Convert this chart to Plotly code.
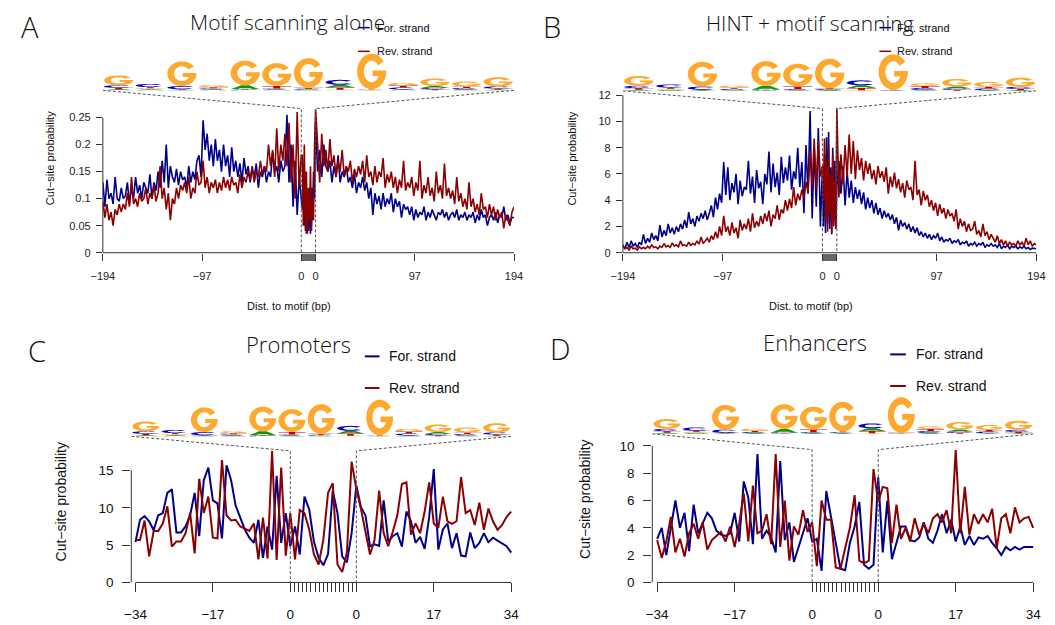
import math
import plotly.graph_objects as go

# ---------------- DATA ----------------
# Panel A: Motif scanning alone (flanks sampled every 2 bp, motif interior every 1 bp)
A_FOR_LEFT = [0.13, 0.085, 0.135, 0.1, 0.11, 0.09, 0.14, 0.1, 0.095, 0.12,
              0.1, 0.105, 0.13, 0.09, 0.12, 0.1, 0.14, 0.11, 0.125, 0.1,
              0.13, 0.12, 0.11, 0.145, 0.1, 0.13, 0.115, 0.15, 0.12, 0.17,
              0.13, 0.2, 0.12, 0.16, 0.14, 0.13, 0.155, 0.125, 0.15, 0.135,
              0.14, 0.12, 0.16, 0.13, 0.15, 0.135, 0.17, 0.18, 0.14, 0.245,
              0.19, 0.22, 0.17, 0.2, 0.16, 0.21, 0.17, 0.19, 0.15, 0.2,
              0.16, 0.18, 0.14, 0.195, 0.15, 0.17, 0.14, 0.165, 0.13, 0.175,
              0.145, 0.16, 0.13, 0.155, 0.14, 0.165, 0.12, 0.15, 0.14, 0.16,
              0.13, 0.15, 0.14, 0.185, 0.15, 0.16, 0.13, 0.17, 0.15, 0.16,
              0.255, 0.13, 0.2, 0.085, 0.17, 0.07, 0.14, 0.1]
A_FOR_MOTIF = [0.08, 0.15, 0.05, 0.12, 0.035, 0.1, 0.04, 0.09, 0.035, 0.12, 0.06, 0.15, 0.1]
A_FOR_RIGHT = [0.24, 0.15, 0.19, 0.14, 0.2, 0.16,
               0.15, 0.17, 0.13, 0.16, 0.14, 0.18, 0.13, 0.15, 0.14, 0.16,
               0.13, 0.14, 0.12, 0.145, 0.11, 0.13, 0.12, 0.14, 0.115, 0.13,
               0.1, 0.12, 0.07, 0.11, 0.09, 0.105, 0.08, 0.11, 0.085, 0.1,
               0.09, 0.11, 0.075, 0.1, 0.085, 0.095, 0.065, 0.09, 0.08, 0.085,
               0.07, 0.085, 0.06, 0.08, 0.065, 0.075, 0.07, 0.085, 0.06, 0.075,
               0.065, 0.08, 0.07, 0.06, 0.075, 0.07, 0.08, 0.065, 0.075, 0.06,
               0.07, 0.075, 0.065, 0.08, 0.06, 0.07, 0.065, 0.075, 0.06, 0.07,
               0.065, 0.075, 0.055, 0.07, 0.06, 0.08, 0.065, 0.07, 0.05, 0.065,
               0.07, 0.06, 0.075, 0.055, 0.07, 0.065, 0.085, 0.06, 0.07, 0.055, 0.065, 0.065]
A_REV_LEFT = [0.095, 0.065, 0.09, 0.06, 0.075, 0.05, 0.08, 0.07, 0.09, 0.075,
              0.09, 0.08, 0.11, 0.085, 0.14, 0.09, 0.1, 0.085, 0.11, 0.095,
              0.1, 0.12, 0.09, 0.11, 0.1, 0.125, 0.095, 0.11, 0.16, 0.1,
              0.12, 0.08, 0.11, 0.06, 0.1, 0.09, 0.12, 0.1, 0.125, 0.115,
              0.13, 0.11, 0.14, 0.1, 0.12, 0.11, 0.15, 0.125, 0.13, 0.17,
              0.12, 0.14, 0.11, 0.13, 0.12, 0.135, 0.11, 0.13, 0.115, 0.14,
              0.12, 0.135, 0.115, 0.14, 0.125, 0.13, 0.11, 0.145, 0.12, 0.14,
              0.13, 0.15, 0.135, 0.16, 0.13, 0.15, 0.14, 0.17, 0.145, 0.16,
              0.15, 0.2, 0.16, 0.19, 0.14, 0.23, 0.15, 0.2, 0.17, 0.22,
              0.16, 0.24, 0.13, 0.2, 0.1, 0.26, 0.12, 0.18]
A_REV_MOTIF = [0.18, 0.05, 0.2, 0.04, 0.15, 0.035, 0.12, 0.06, 0.16, 0.04, 0.1, 0.06, 0.2]
A_REV_RIGHT = [0.265, 0.2, 0.13, 0.22, 0.16, 0.19,
               0.15, 0.21, 0.16, 0.18, 0.14, 0.17, 0.15, 0.19, 0.14, 0.16,
               0.15, 0.17, 0.13, 0.155, 0.14, 0.16, 0.145, 0.17, 0.13, 0.18,
               0.14, 0.15, 0.125, 0.16, 0.13, 0.15, 0.14, 0.175, 0.12, 0.145,
               0.13, 0.15, 0.12, 0.14, 0.11, 0.135, 0.12, 0.17, 0.115, 0.13,
               0.12, 0.14, 0.105, 0.13, 0.115, 0.17, 0.1, 0.125, 0.11, 0.14,
               0.105, 0.12, 0.095, 0.15, 0.11, 0.125, 0.1, 0.165, 0.105, 0.12,
               0.1, 0.115, 0.09, 0.14, 0.095, 0.11, 0.085, 0.1, 0.08, 0.13,
               0.085, 0.1, 0.075, 0.09, 0.07, 0.11, 0.08, 0.085, 0.065, 0.09,
               0.07, 0.085, 0.06, 0.08, 0.065, 0.075, 0.045, 0.07, 0.06, 0.05, 0.075, 0.085]

# Panel B: HINT + motif scanning
B_FOR_LEFT = [0.6, 0.3, 0.8, 0.4, 0.9, 0.5, 0.7, 0.4, 0.8, 0.6,
              1.4, 0.7, 1.1, 0.8, 1.5, 1.0, 1.3, 0.9, 2.1, 1.2,
              1.7, 1.3, 2.2, 1.5, 1.9, 1.4, 2.0, 1.6, 2.2, 1.8,
              2.5, 1.9, 3.1, 2.2, 2.6, 2.0, 2.8, 2.4, 3.0, 2.6,
              3.2, 2.5, 3.0, 3.6, 2.7, 4.2, 3.3, 4.5, 3.8, 6.9,
              4.4, 6.5, 4.0, 5.3, 4.6, 6.0, 3.7, 5.5, 4.3, 5.0,
              4.8, 7.0, 4.5, 5.8, 3.8, 6.3, 4.9, 5.4, 3.7, 6.0,
              5.2, 7.7, 4.6, 6.8, 5.0, 6.1, 4.4, 7.3, 5.3, 6.5,
              5.5, 7.4, 4.8, 6.2, 5.6, 8.0, 5.0, 6.9, 3.0, 8.2,
              4.5, 10.8, 2.6, 8.0, 3.5, 9.5, 2.0, 6.5]
B_FOR_MOTIF = [2.0, 7.5, 1.5, 8.8, 2.2, 9.2, 1.8, 6.5, 1.4, 8.0, 2.5, 7.0, 1.8]
B_FOR_RIGHT = [5.0, 7.0, 4.5, 6.6, 3.6, 6.2,
               4.2, 5.5, 3.8, 5.0, 4.1, 4.8, 3.7, 4.6, 3.3, 4.2,
               3.4, 4.0, 3.0, 3.8, 2.9, 3.4, 2.6, 3.2, 2.7, 3.0,
               2.5, 2.9, 2.2, 2.7, 1.7, 2.5, 2.0, 2.3, 1.8, 2.2,
               1.6, 2.0, 1.5, 1.9, 1.3, 1.6, 1.2, 1.5, 1.1, 1.4,
               1.0, 1.3, 1.1, 1.5, 0.9, 1.2, 0.8, 1.0, 0.9, 1.1,
               0.7, 0.9, 0.8, 1.0, 0.6, 0.8, 0.7, 0.9, 0.5, 0.7,
               0.6, 0.8, 0.5, 0.7, 0.6, 0.8, 0.4, 0.6, 0.5, 0.7,
               0.5, 0.6, 0.4, 0.7, 0.3, 0.5, 0.4, 0.6, 0.3, 0.5,
               0.4, 0.5, 0.3, 0.45, 0.35, 0.5, 0.3, 0.4, 0.25, 0.35, 0.3, 0.3]
B_REV_LEFT = [0.5, 0.3, 0.4, 0.2, 0.5, 0.3, 0.35, 0.2, 0.45, 0.3,
              0.4, 0.3, 0.5, 0.35, 0.6, 0.4, 0.45, 0.3, 0.5, 0.4,
              0.7, 0.45, 0.55, 0.4, 0.75, 0.5, 0.6, 0.45, 0.9, 0.55,
              0.6, 0.5, 0.8, 0.55, 0.7, 0.6, 0.9, 0.65, 1.2, 0.7,
              0.9, 1.1, 0.8, 1.3, 1.0, 1.6, 1.1, 2.0, 1.3, 2.8,
              1.6, 2.0, 1.3, 2.3, 1.5, 1.9, 1.1, 2.5, 1.7, 2.2,
              1.8, 2.6, 1.6, 3.0, 1.9, 2.4, 2.0, 2.8, 2.2, 3.0,
              2.4, 3.2, 2.0, 2.9, 2.6, 3.6, 2.5, 3.3, 3.0, 4.0,
              3.2, 4.1, 3.4, 5.0, 3.6, 4.5, 4.0, 4.8, 4.2, 5.4,
              4.6, 7.7, 5.1, 8.7, 4.8, 8.5, 5.8, 6.6]
B_REV_MOTIF = [4.0, 8.7, 2.5, 7.0, 1.6, 8.2, 3.0, 6.0, 1.5, 7.5, 2.0, 5.5, 1.9]
B_REV_RIGHT = [11.0, 4.2, 7.5, 5.2, 8.2, 5.8,
               9.0, 6.0, 8.5, 5.6, 7.8, 6.3, 7.2, 5.5, 7.0, 6.0,
               6.8, 5.6, 6.3, 5.2, 6.6, 5.7, 6.2, 5.4, 6.5, 4.5,
               5.8, 5.0, 6.1, 4.9, 5.6, 4.6, 5.3, 4.2, 5.5, 4.8,
               5.0, 4.0, 7.0, 4.4, 4.8, 3.6, 4.7, 4.0, 4.4, 3.5,
               4.0, 3.2, 3.8, 2.8, 3.7, 3.0, 3.4, 2.6, 3.3, 2.8,
               3.0, 2.4, 3.3, 1.8, 2.6, 2.0, 2.4, 1.6, 2.2, 1.7,
               1.8, 2.4, 1.4, 1.7, 1.2, 2.2, 1.3, 1.6, 1.0, 1.4,
               1.1, 0.8, 1.3, 0.7, 1.0, 0.6, 0.9, 0.5, 0.8, 0.6,
               0.7, 0.5, 0.9, 0.6, 0.8, 0.5, 1.1, 0.6, 0.9, 0.5, 0.7, 0.6]

# Panel C: Promoters (1 bp resolution)
C_FOR_LEFT = [5.4, 8.4, 8.9, 8.2, 7.0, 9.0, 9.3, 12.0, 12.5, 6.7, 6.7, 7.5, 9.0, 12.0, 6.2,
              13.7, 15.4, 11.0, 10.6, 5.9, 15.7, 13.7, 10.3, 8.6, 7.1, 6.0, 5.3, 8.4, 3.3,
              7.5, 4.4, 14.3, 5.3, 9.3, 4.85]
C_FOR_MOTIF = [7.5, 3.75, 11.5, 9.8, 5.5, 3.3, 2.3, 3.8, 12.3, 9.3, 3.5, 2.7, 6.6]
C_FOR_RIGHT = [13.0, 10.1, 9.0, 4.85, 5.1, 4.9, 11.0, 5.5, 6.2, 6.6, 4.8, 9.5, 8.2, 5.3, 6.1,
               4.5, 8.8, 15.2, 4.4, 7.1, 7.9, 4.6, 6.6, 3.6, 3.5, 6.7, 4.6, 5.3, 6.6, 5.4,
               6.0, 5.6, 5.2, 4.85, 4.0]
C_REV_LEFT = [5.7, 5.7, 8.3, 3.5, 6.9, 6.9, 7.9, 10.2, 4.8, 5.5, 5.5, 6.6, 9.3, 3.9, 13.9,
              9.3, 11.5, 6.0, 5.9, 16.4, 9.0, 8.3, 8.4, 7.5, 7.2, 6.9, 7.9, 3.1, 8.7, 3.2,
              17.6, 3.0, 15.4, 3.6, 9.3]
C_REV_MOTIF = [3.1, 9.7, 9.3, 7.1, 3.8, 2.4, 5.7, 12.0, 13.3, 2.4, 1.4, 4.0, 16.2]
C_REV_RIGHT = [12.5, 9.9, 6.8, 3.75, 5.7, 12.3, 6.6, 4.85, 6.8, 9.0, 13.2, 13.4, 6.4, 7.9,
               6.6, 9.5, 13.4, 7.9, 7.3, 11.5, 8.2, 7.85, 8.2, 14.1, 9.3, 9.7, 7.7, 10.7,
               7.05, 9.9, 8.2, 7.05, 7.7, 8.8, 9.5]

# Panel D: Enhancers (1 bp resolution)
D_FOR_LEFT = [3.2, 4.0, 2.0, 4.0, 6.0, 4.0, 5.1, 2.3, 5.7, 3.6, 4.4, 5.1, 4.7, 3.8, 3.5,
              3.4, 3.6, 5.1, 3.0, 7.4, 6.2, 2.8, 9.4, 3.2, 3.8, 3.3, 2.2, 8.9, 3.1, 4.4,
              1.5, 2.6, 3.6, 4.7, 3.0]
D_FOR_MOTIF = [3.2, 0.85, 6.7, 4.8, 2.8, 1.0, 0.9, 2.9, 4.1, 5.9, 1.3, 1.0, 1.3]
D_FOR_RIGHT = [7.7, 2.2, 6.0, 1.7, 2.9, 4.1, 4.1, 3.1, 3.0, 3.3, 4.4, 3.2, 2.9, 3.8, 5.0,
               3.6, 4.6, 3.0, 4.1, 2.75, 3.4, 2.75, 3.3, 3.2, 3.4, 2.9, 2.5, 2.0, 2.6, 2.35,
               2.6, 2.4, 2.6, 2.6, 2.6]
D_REV_LEFT = [3.1, 1.8, 3.0, 4.8, 2.2, 3.2, 1.9, 3.6, 4.3, 3.2, 4.4, 2.4, 3.1, 3.4, 3.7,
              3.0, 4.1, 2.6, 4.3, 6.5, 3.0, 7.1, 3.6, 3.8, 5.0, 2.8, 9.4, 2.6, 6.0, 1.6,
              4.1, 3.5, 5.3, 3.7, 4.4]
D_REV_MOTIF = [1.2, 6.0, 4.6, 4.6, 1.1, 1.0, 2.5, 4.0, 6.4, 1.6, 1.4, 1.6, 8.3]
D_REV_RIGHT = [5.9, 7.0, 6.9, 2.9, 5.7, 3.2, 4.0, 3.0, 4.7, 3.5, 4.3, 3.6, 4.7, 5.0, 4.4,
               5.3, 3.6, 9.7, 3.6, 7.0, 3.5, 5.0, 4.3, 5.0, 4.4, 5.4, 2.5, 4.7, 5.0, 3.6,
               5.5, 4.4, 4.7, 4.8, 4.0]

# Sequence logo (bits per position, 13 columns)
LOGO_A = [0.06, 0.06, 0.03, 0.05, 0.22, 0.05, 0.04, 0.15, 0.02, 0.05, 0.11, 0.04, 0.04]
LOGO_C = [0.13, 0.18, 0.18, 0.06, 0.03, 0.05, 0.05, 0.28, 0.02, 0.11, 0.07, 0.09, 0.11]
LOGO_G = [0.56, 0.06, 1.39, 0.11, 1.39, 1.28, 1.67, 0.03, 2.0, 0.15, 0.43, 0.28, 0.52]
LOGO_T = [0.09, 0.06, 0.03, 0.07, 0.03, 0.15, 0.05, 0.13, 0.02, 0.11, 0.06, 0.09, 0.07]

TITLES = ["Motif scanning alone", "HINT + motif scanning", "Promoters", "Enhancers"]
LETTERS = ["A", "B", "C", "D"]
LEGEND_LABELS = ["For. strand", "Rev. strand"]
Y_TITLE = "Cut\u2212site probability"
X_TITLE = "Dist. to motif (bp)"

# ---------------- STYLE ----------------
FW, FH = 1055, 625
BLUE = "#00008B"
RED = "#8B0000"
AXC = "#333333"
LOGO_COLORS = {"A": "#0B9A0B", "C": "#0000CC", "G": "#FFA82E", "T": "#CC0000"}
SANS = "Liberation Sans, Arial, Helvetica, sans-serif"
LIGHT = "Open Sans, Roboto, Liberation Sans, sans-serif"


def xpos(n_left, step, w, n_motif, n_right):
    left = [-(n_left - 1 - i) * step for i in range(n_left)]
    motif = [w * (j + 1) / (n_motif + 1) for j in range(n_motif)]
    right = [w + k * step for k in range(n_right)]
    return left + motif + right


def arc(cx, cy, rx, ry, a0, a1, n):
    pts = []
    for i in range(n):
        t = math.radians(a0 + (a1 - a0) * i / (n - 1))
        pts.append((cx + rx * math.cos(t), cy + ry * math.sin(t)))
    return pts


GLYPHS = {
    "G": arc(.5, .5, .5, .5, 35, 355, 40) + [(1.0, .53), (.53, .53), (.53, .37)]
         + arc(.5, .5, .27, .3, -25.7, -325, 36),
    "C": arc(.5, .5, .5, .5, 40, 320, 36) + arc(.5, .5, .27, .3, 320, 40, 30),
    "A": [(0, 0), (.36, 1), (.64, 1), (1, 0), (.76, 0), (.68, .24), (.32, .24), (.24, 0)],
    "T": [(0, 1), (1, 1), (1, .8), (.62, .8), (.62, 0), (.38, 0), (.38, .8), (0, .8)],
}

panels = [
    dict(fl=A_FOR_LEFT, fm=A_FOR_MOTIF, fr=A_FOR_RIGHT, rl=A_REV_LEFT, rm=A_REV_MOTIF, rr=A_REV_RIGHT,
         flank=194, half=97, step=2, W=14.0, xr=(-194, 208), px=(92.7, 512.2),
         y0px=256, ppu=548.0, top=48, yt=[0, 0.05, 0.1, 0.15, 0.2, 0.25],
         ytt=["0", "0.05", "0.1", "0.15", "0.2", "0.25"], base=91.5, dash=110,
         lw=1.6, tl=7, small=True, mcol="#666666"),
    dict(fl=B_FOR_LEFT, fm=B_FOR_MOTIF, fr=B_FOR_RIGHT, rl=B_REV_LEFT, rm=B_REV_MOTIF, rr=B_REV_RIGHT,
         flank=194, half=97, step=2, W=14.0, xr=(-194, 208), px=(623.3, 1045.2),
         y0px=256, ppu=13.3, top=48, yt=[0, 2, 4, 6, 8, 10, 12],
         ytt=["0", "2", "4", "6", "8", "10", "12"], base=92, dash=110,
         lw=1.6, tl=7, small=True, mcol="#666666"),
    dict(fl=C_FOR_LEFT, fm=C_FOR_MOTIF, fr=C_FOR_RIGHT, rl=C_REV_LEFT, rm=C_REV_MOTIF, rr=C_REV_RIGHT,
         flank=34, half=17, step=1, W=14.5, xr=(-34.92, 49.42), px=(121.7, 513.6),
         y0px=590, ppu=7.56, top=395, yt=[0, 5, 10, 15], ytt=["0", "5", "10", "15"],
         base=442, dash=456.7, lw=2.0, tl=9, small=False, mcol=AXC),
    dict(fl=D_FOR_LEFT, fm=D_FOR_MOTIF, fr=D_FOR_RIGHT, rl=D_REV_LEFT, rm=D_REV_MOTIF, rr=D_REV_RIGHT,
         flank=34, half=17, step=1, W=14.5, xr=(-35.07, 49.57), px=(653.3, 1046.9),
         y0px=590, ppu=13.83, top=395, yt=[0, 2, 4, 6, 8, 10], ytt=["0", "2", "4", "6", "8", "10"],
         base=439.5, dash=455.5, lw=2.0, tl=9, small=False, mcol=AXC),
]

fig = go.Figure()
shapes = []
annotations = []
layout_axes = {}

BIT_PX = 18.0

for i, p in enumerate(panels):
    n = "" if i == 0 else str(i + 1)
    xa, ya = "x" + n, "y" + n
    W = p["W"]
    y_top = (p["y0px"] - p["top"]) / p["ppu"]
    xs_f = xpos(len(p["fl"]), p["step"], W, len(p["fm"]), len(p["fr"]))
    xs_r = xpos(len(p["rl"]), p["step"], W, len(p["rm"]), len(p["rr"]))
    fig.add_trace(go.Scatter(x=xs_f, y=p["fl"] + p["fm"] + p["fr"], mode="lines",
                             line=dict(color=BLUE, width=p["lw"]), xaxis=xa, yaxis=ya,
                             hoverinfo="skip", showlegend=False))
    fig.add_trace(go.Scatter(x=xs_r, y=p["rl"] + p["rm"] + p["rr"], mode="lines",
                             line=dict(color=RED, width=p["lw"]), xaxis=xa, yaxis=ya,
                             hoverinfo="skip", showlegend=False))

    if p["small"]:
        tfont = dict(family=SANS, size=11, color="#222")
    else:
        tfont = dict(family=SANS, size=13.5, color="#111")
    fl_, hf = p["flank"], p["half"]
    tickvals = [-fl_, -hf, 0, W, W + hf, W + fl_]
    ticktext = ["\u2212%d" % fl_, "\u2212%d" % hf, "0", "0", "%d" % hf, "%d" % fl_]
    minor_vals = [W * j / 16 for j in range(1, 16)]
    layout_axes["xaxis" + n] = dict(
        domain=[p["px"][0] / FW, p["px"][1] / FW], range=list(p["xr"]), anchor=ya,
        showline=False, showgrid=False, zeroline=False, ticks="outside", ticklen=p["tl"],
        tickwidth=1, tickcolor=AXC, tickmode="array", tickvals=tickvals, ticktext=ticktext,
        tickangle=0, tickfont=tfont, ticklabelstandoff=6 if p["small"] else 10,
        minor=dict(tickmode="array", tickvals=minor_vals, ticks="outside", ticklen=p["tl"],
                   tickwidth=1, tickcolor=p["mcol"], showgrid=False),
    )
    layout_axes["yaxis" + n] = dict(
        domain=[1 - p["y0px"] / FH, 1 - p["top"] / FH], range=[0, y_top], anchor=xa,
        showline=False, showgrid=False, zeroline=False, ticks="outside", ticklen=p["tl"] - 1,
        tickwidth=1, tickcolor=AXC, tickmode="array", tickvals=p["yt"], ticktext=p["ytt"],
        tickfont=tfont, ticklabelstandoff=3 if p["small"] else 6,
    )
    # R-style axis lines spanning only the tick range
    shapes.append(dict(type="line", xref=xa + " domain", yref=ya, x0=0, x1=0,
                       y0=p["yt"][0], y1=p["yt"][-1], line=dict(color=AXC, width=1)))
    shapes.append(dict(type="line", xref=xa, yref=ya + " domain", x0=-fl_, x1=W + fl_,
                       y0=0, y1=0, line=dict(color=AXC, width=1)))
    # logo + connecting dashed lines
    base_y = (p["y0px"] - p["base"]) / p["ppu"]
    dash_y = (p["y0px"] - p["dash"]) / p["ppu"]
    unit = BIT_PX / p["ppu"]
    lx0, lx1 = p["xr"][0], W + fl_
    dline = dict(color="#555555", width=1, dash="3px,2px")
    shapes.append(dict(type="path", xref=xa, yref=ya, line=dline,
                       path="M %.4f,%.5f L 0,%.5f L 0,0" % (lx0, base_y, dash_y)))
    shapes.append(dict(type="path", xref=xa, yref=ya, line=dline,
                       path="M %.4f,%.5f L %.4f,%.5f L %.4f,0" % (lx1, base_y, W, dash_y, W)))
    ncol = len(LOGO_G)
    cw = (lx1 - lx0) / ncol
    for c in range(ncol):
        hts = [("A", LOGO_A[c]), ("C", LOGO_C[c]), ("G", LOGO_G[c]), ("T", LOGO_T[c])]
        hts.sort(key=lambda t: t[1])
        x0 = lx0 + c * cw + 0.04 * cw
        x1 = lx0 + (c + 1) * cw - 0.04 * cw
        yb = base_y
        for let, h in hts:
            hh = h * unit
            pts = GLYPHS[let]
            path = "M " + " L ".join("%.4f,%.6f" % (x0 + u * (x1 - x0), yb + v * hh) for u, v in pts) + " Z"
            shapes.append(dict(type="path", xref=xa, yref=ya, path=path,
                               fillcolor=LOGO_COLORS[let], line=dict(width=0)))
            yb += hh


def add_text(txt, x, y, size, family, weight=400, anchor="center", angle=0, color="#111"):
    annotations.append(dict(text=txt, x=x / FW, y=1 - y / FH, xref="paper", yref="paper",
                            showarrow=False, xanchor=anchor, yanchor="middle", textangle=angle,
                            font=dict(family=family, size=size, weight=weight, color=color)))


def add_legend(x0, x1, xt, y1, y2, size, lw, family, weight):
    for (yy, col, lab) in [(y1, BLUE, LEGEND_LABELS[0]), (y2, RED, LEGEND_LABELS[1])]:
        shapes.append(dict(type="line", xref="paper", yref="paper", x0=x0 / FW, x1=x1 / FW,
                           y0=1 - yy / FH, y1=1 - yy / FH, line=dict(color=col, width=lw)))
        add_text(lab, xt, yy, size, family, weight, anchor="left")


# Panel letters and titles
add_text(LETTERS[0], 18, 27, 29, LIGHT, 300)
add_text(LETTERS[1], 551, 27, 29, LIGHT, 300)
add_text(LETTERS[2], 25, 355, 29, LIGHT, 300)
add_text(LETTERS[3], 559, 353, 29, LIGHT, 300)
add_text(TITLES[0], 281, 22, 21, LIGHT, 300)
add_text(TITLES[1], 814, 23, 21, LIGHT, 300)
add_text(TITLES[2], 292, 348, 22, LIGHT, 300)
add_text(TITLES[3], 819, 346, 22, LIGHT, 300)

# legends
add_legend(353, 365, 370, 28, 52, 11, 1.5, SANS, 400)
add_legend(885, 897, 901, 28, 52, 11, 1.5, SANS, 400)
add_legend(360, 375, 383, 361, 393, 14, 2, SANS, 400)
add_legend(896, 912, 920, 359, 391, 14, 2, SANS, 400)

# axis titles
add_text(Y_TITLE, 39, 160, 11, SANS, angle=-90)
add_text(Y_TITLE, 571, 161, 11, SANS, angle=-90)
add_text(X_TITLE, 283, 310, 11, SANS)
add_text(X_TITLE, 815, 310, 11, SANS)
add_text(Y_TITLE, 51, 508, 14, SANS, angle=-90)
add_text(Y_TITLE, 584, 506, 14, SANS, angle=-90)

fig.update_layout(width=FW, height=FH, margin=dict(l=0, r=0, t=0, b=0),
                  paper_bgcolor="white", plot_bgcolor="white", showlegend=False,
                  shapes=shapes, annotations=annotations, **layout_axes)

fig.write_html("out.html", config={"displayModeBar": False},
               post_script="document.body.style.margin='0px';document.body.style.overflow='hidden';")
